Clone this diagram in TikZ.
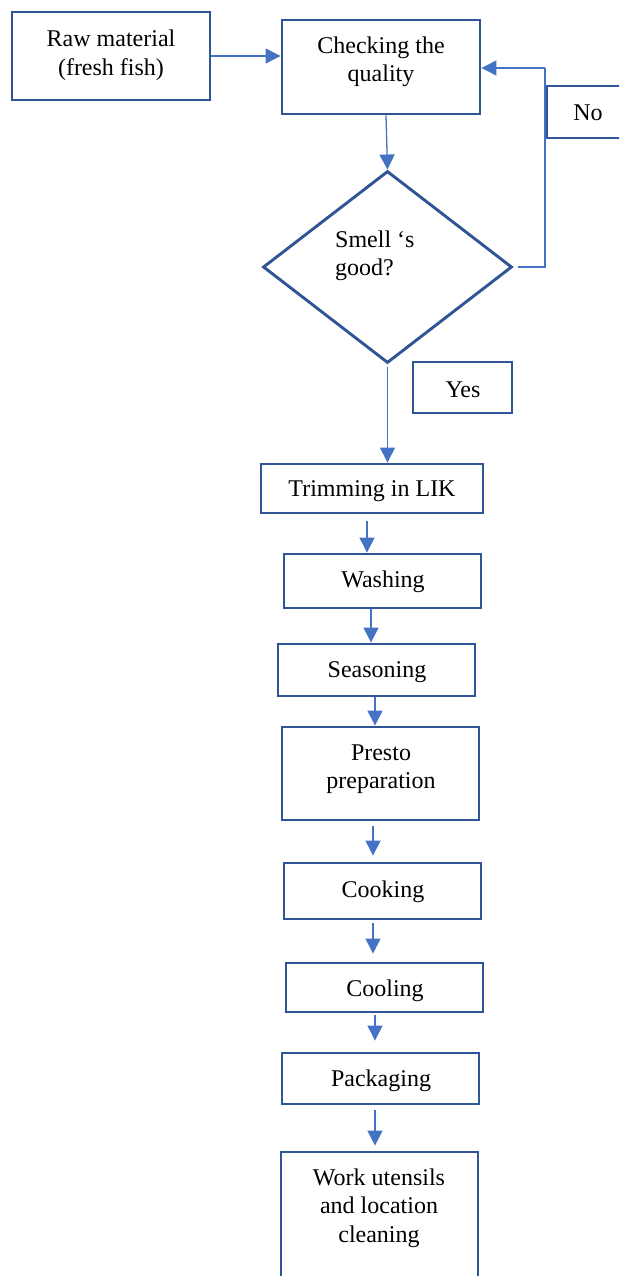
\documentclass[tikz,border=0pt]{standalone}
\usepackage{fontspec}
\setmainfont{Liberation Serif}
\usetikzlibrary{shapes.geometric,arrows.meta}
\definecolor{boxblue}{HTML}{2F5597}
\definecolor{arrblue}{HTML}{4472C4}
\begin{document}
\begin{tikzpicture}[x=1pt,y=-1pt,
  box/.style={draw=boxblue,line width=2.9pt,rectangle,inner sep=0pt,fill=white},
  dia/.style={draw=boxblue,line width=2.9pt,diamond,inner sep=0pt,fill=white},
  txt/.style={font=\fontsize{24}{28.5}\selectfont,align=center,inner sep=0pt,text=black},
  arr/.style={draw=arrblue,line width=1.3pt,-{Triangle[length=15pt,width=15pt]}},
  ln/.style={draw=arrblue,line width=1.3pt}]
\useasboundingbox (0,0) rectangle (619,1276);
\clip (0,0) rectangle (619,1276);
\fill[white] (0,0) rectangle (619,1276);
% boxes
\node[box,minimum width=198pt,minimum height=88pt] (raw) at (111,56) {};
\node[box,minimum width=198pt,minimum height=94pt] (check) at (381,67) {};
\node[box,minimum width=98pt,minimum height=52pt] (no) at (596,112) {};
\node[dia,minimum width=249pt,minimum height=192pt] (dec) at (387.5,267) {};
\node[box,minimum width=99pt,minimum height=51pt] (yes) at (462.5,387.5) {};
\node[box,minimum width=222pt,minimum height=49pt] (trim) at (372,488.5) {};
\node[box,minimum width=197pt,minimum height=54pt] (wash) at (382.5,581) {};
\node[box,minimum width=197pt,minimum height=52pt] (seas) at (376.5,670) {};
\node[box,minimum width=197pt,minimum height=93pt] (presto) at (380.5,773.5) {};
\node[box,minimum width=197pt,minimum height=56pt] (cook) at (382.5,891) {};
\node[box,minimum width=197pt,minimum height=49pt] (cool) at (384.5,987.5) {};
\node[box,minimum width=197pt,minimum height=51pt] (pack) at (380.5,1078.5) {};
\node[box,minimum width=197pt,minimum height=148pt] (work) at (379.5,1226) {};
% texts
\node[txt] (rawT) at (111,55) {Raw material\\(fresh fish)};
\node[txt] (checkT) at (381,62) {Checking the\\quality};
\node[txt] (noT) at (588,113) {No};
\node[txt,align=left,anchor=west] (decT) at (335,256) {Smell ‘s\\good?};
\node[txt] (yesT) at (463,390) {Yes};
\node[txt] (trimT) at (372,491) {Trimming in LIK};
\node[txt] (washT) at (383,582) {Washing};
\node[txt] (seasT) at (377,672) {Seasoning};
\node[txt] (prestoT) at (381,769) {Presto\\preparation};
\node[txt] (cookT) at (383,892) {Cooking};
\node[txt] (coolT) at (385,991) {Cooling};
\node[txt] (packT) at (381,1081) {Packaging};
\node[txt] (workT) at (379,1208) {Work utensils\\and location\\cleaning};
% connectors
\coordinate (fb) at (545,68);
\draw[arr] (raw.east) -- (raw.east -| check.west);
\draw[arr] ([xshift=5pt]check.south) -- (dec.north);
\draw[ln] ([xshift=5pt]dec.east) -| (fb);
\draw[arr] (fb) -- (check.east |- fb);
\draw[arr] ([yshift=-3pt]dec.south) -- (trim.north -| dec.south);
\draw[arr] ([xshift=-5pt,yshift=-7pt]trim.south) -- ([xshift=-15.5pt]wash.north);
\draw[arr] ([xshift=-11.5pt]wash.south) -- ([xshift=-5.5pt]seas.north);
\draw[arr] ([xshift=-1.5pt]seas.south) -- ([xshift=-5.5pt]presto.north);
\draw[arr] ([xshift=-7.5pt,yshift=-5pt]presto.south) -- ([xshift=-9.5pt,yshift=6pt]cook.north);
\draw[arr] ([xshift=-9.5pt,yshift=-3pt]cook.south) -- ([xshift=-11.5pt,yshift=8pt]cool.north);
\draw[arr] ([xshift=-9.5pt,yshift=-2pt]cool.south) -- ([xshift=-5.5pt,yshift=11pt]pack.north);
\draw[arr] ([xshift=-5.5pt,yshift=-5pt]pack.south) -- ([xshift=-4.5pt,yshift=5pt]work.north);
\end{tikzpicture}
\end{document}
